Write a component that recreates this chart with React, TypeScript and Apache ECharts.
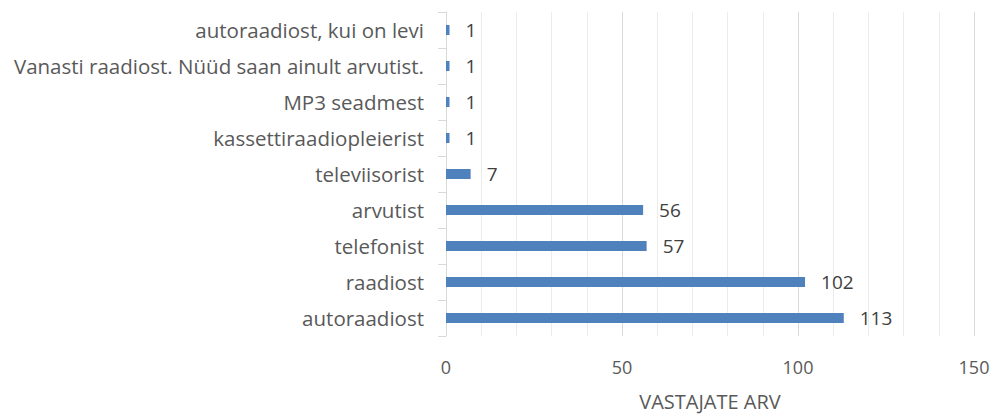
import React, { useEffect, useRef } from "react";
import * as echarts from "echarts";

const categories = [
  "autoraadiost",
  "raadiost",
  "telefonist",
  "arvutist",
  "televiisorist",
  "kassettiraadiopleierist",
  "MP3 seadmest",
  "Vanasti raadiost. Nüüd saan ainult arvutist.",
  "autoraadiost, kui on levi",
];
const values = [113, 102, 57, 56, 7, 1, 1, 1, 1];
const axisName = "VASTAJATE ARV";

export default function App() {
  const ref = useRef<HTMLDivElement>(null);
  useEffect(() => {
    if (!ref.current) return;
    const chart = echarts.init(ref.current, undefined, { renderer: "svg" });
    const font = "'Open Sans', 'Noto Sans', sans-serif";
    chart.setOption({
      animation: false,
      grid: { left: 446, right: 22, top: 12, bottom: 74, containLabel: false },
      xAxis: {
        type: "value",
        min: 0,
        max: 150,
        interval: 50,
        name: axisName,
        nameLocation: "middle",
        nameGap: 55,
        nameTextStyle: { color: "#595959", fontSize: 20, fontFamily: font },
        axisLine: { show: false },
        axisTick: { show: false },
        axisLabel: { color: "#595959", fontSize: 18, fontFamily: font, margin: 22 },
        splitLine: { show: true, lineStyle: { color: "#d9d9d9", width: 1 } },
        minorTick: { show: false, splitNumber: 5 },
        minorSplitLine: { show: true, lineStyle: { color: "#ececec", width: 1 } },
      },
      yAxis: {
        type: "category",
        data: categories,
        axisLine: { show: true, lineStyle: { color: "#d9d9d9", width: 1 } },
        axisTick: { show: true, length: 8, lineStyle: { color: "#d9d9d9" } },
        axisLabel: { color: "#595959", fontSize: 20.5, fontFamily: font, margin: 22 },
        splitLine: { show: false },
      },
      series: [
        {
          type: "bar",
          data: values,
          barWidth: 10,
          itemStyle: { color: "#4f81bd" },
          label: {
            show: true,
            position: "right",
            distance: 16,
            color: "#404040",
            fontSize: 19,
            fontFamily: font,
          },
        },
      ],
    });
    return () => chart.dispose();
  }, []);
  return (
    <div
      ref={ref}
      style={{ position: "fixed", left: 0, top: 0, width: 996, height: 416, background: "#fff" }}
    />
  );
}
